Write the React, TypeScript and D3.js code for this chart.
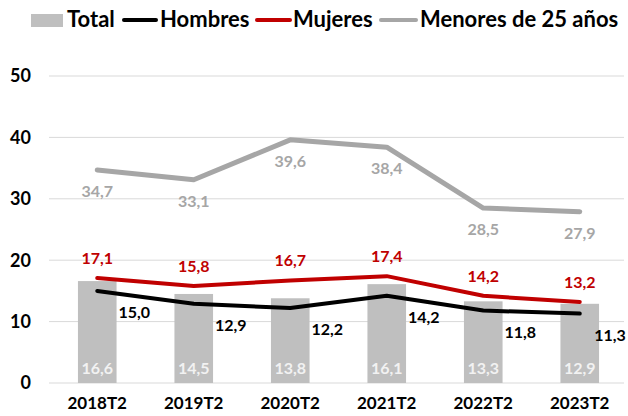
import React from 'react';
import * as d3 from 'd3';

const categories = ['2018T2', '2019T2', '2020T2', '2021T2', '2022T2', '2023T2'];
const total = [16.6, 14.5, 13.8, 16.1, 13.3, 12.9];
const hombres = [15.0, 12.9, 12.2, 14.2, 11.8, 11.3];
const mujeres = [17.1, 15.8, 16.7, 17.4, 14.2, 13.2];
const menores = [34.7, 33.1, 39.6, 38.4, 28.5, 27.9];
const yTicks = [0, 10, 20, 30, 40, 50];

const width = 628;
const height = 416;
const margin = { top: 76, right: 0, bottom: 33, left: 49 };
const font = 'Lato, "Open Sans", sans-serif';

const fmt = (v: number) => v.toFixed(1).replace('.', ',');

const App = () => {
  // scales
  const x = d3.scaleBand<string>()
    .domain(categories)
    .range([margin.left, width - margin.right])
    .paddingInner(0.6)
    .paddingOuter(0.3);

  const y = d3.scaleLinear()
    .domain([0, 50])
    .range([height - margin.bottom, margin.top]);

  const cx = (c: string) => (x(c) ?? 0) + x.bandwidth() / 2;

  const line = d3.line<number>()
    .x((_, i) => cx(categories[i]))
    .y(d => y(d));

  const series = [
    { name: 'menores', data: menores, color: '#A6A6A6', width: 5, labelColor: '#A6A6A6', dx: 0, dy: 27 },
    { name: 'mujeres', data: mujeres, color: '#C00000', width: 4, labelColor: '#C00000', dx: 0, dy: -14 },
    { name: 'hombres', data: hombres, color: '#000000', width: 4, labelColor: '#000000', dx: 37, dy: 27 },
  ];

  return (
    <svg width={width} height={height} style={{ position: 'absolute', left: 0, top: 0, background: '#fff' }}>
      {/* gridlines */}
      {yTicks.map(t => (
        <line key={t} x1={margin.left} x2={width - 4} y1={y(t)} y2={y(t)} stroke="#D9D9D9" strokeWidth={1} />
      ))}

      {/* y tick labels */}
      {yTicks.map(t => (
        <text key={'t' + t} x={31} y={y(t)} dy="0.36em" textAnchor="end"
          fontFamily={font} fontWeight="bold" fontSize={18} fill="#000">{t}</text>
      ))}

      {/* bars */}
      {total.map((v, i) => (
        <rect key={i} x={x(categories[i])} y={y(v)} width={x.bandwidth()} height={y(0) - y(v)} fill="#BFBFBF" />
      ))}
      {total.map((v, i) => (
        <text key={'b' + i} x={cx(categories[i])} y={y(0) - 9} textAnchor="middle"
          fontFamily={font} fontWeight="bold" fontSize={16} fill="#F2F2F2">{fmt(v)}</text>
      ))}

      {/* lines */}
      {series.map(s => (
        <path key={s.name} d={line(s.data) ?? ''} fill="none" stroke={s.color} strokeWidth={s.width}
          strokeLinejoin="round" strokeLinecap="round" />
      ))}

      {/* line labels (kept inside the right edge) */}
      {series.map(s => s.data.map((v, i) => (
        <text key={s.name + i} x={Math.min(cx(categories[i]) + s.dx, width - 18)} y={y(v) + s.dy} textAnchor="middle"
          fontFamily={font} fontWeight="bold" fontSize={16} fill={s.labelColor}>{fmt(v)}</text>
      )))}

      {/* x labels */}
      {categories.map(c => (
        <text key={c} x={cx(c)} y={409} textAnchor="middle"
          fontFamily={font} fontWeight="bold" fontSize={17} fill="#000">{c}</text>
      ))}

      {/* legend */}
      <g fontFamily={font} fontWeight="bold" fontSize={22} fill="#000">
        <rect x={31} y={14} width={32} height={13} fill="#BFBFBF" />
        <text x={67} y={27}>Total</text>
        <line x1={124} x2={156} y1={20} y2={20} stroke="#000" strokeWidth={4} strokeLinecap="round" />
        <text x={160} y={27}>Hombres</text>
        <line x1={257} x2={290} y1={20} y2={20} stroke="#C00000" strokeWidth={4} strokeLinecap="round" />
        <text x={293} y={27}>Mujeres</text>
        <line x1={381} x2={416} y1={20} y2={20} stroke="#A6A6A6" strokeWidth={4} strokeLinecap="round" />
        <text x={420} y={27}>Menores de 25 años</text>
      </g>
    </svg>
  );
};

export default App;
